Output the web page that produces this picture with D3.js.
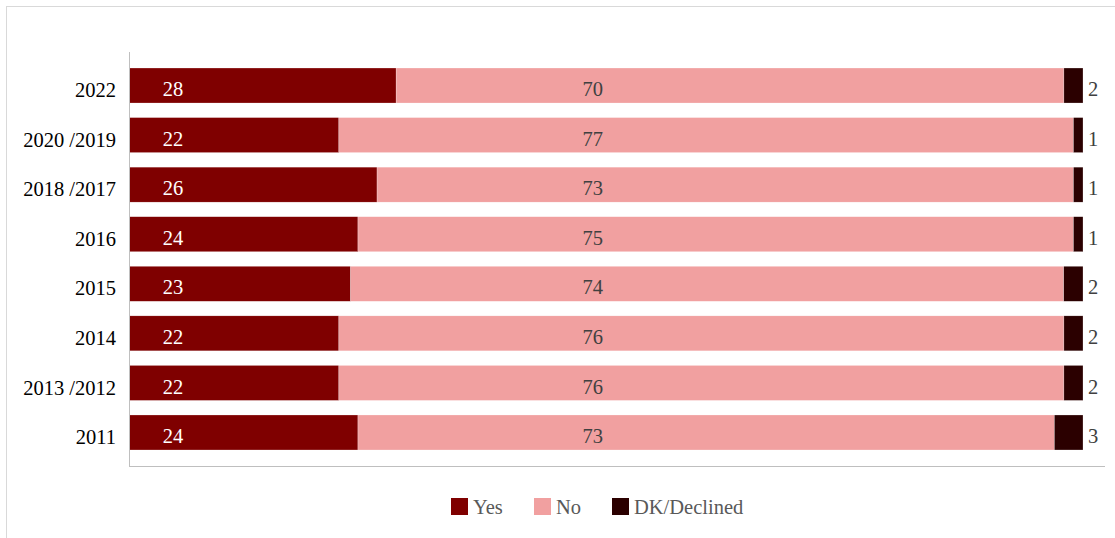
<!DOCTYPE html>
<html>
<head>
<meta charset="utf-8">
<script src="https://cdn.jsdelivr.net/npm/d3@7"></script>
<style>
  html, body { margin: 0; padding: 0; background: #fff; }
  svg { display: block; }
</style>
</head>
<body>
<svg id="chart" width="1115" height="538"></svg>
<script>
// Survey periods, top to bottom
const categories = ["2022", "2020 /2019", "2018 /2017", "2016", "2015", "2014", "2013 /2012", "2011"];
// Share of respondents (%)
const yesValues = [28, 22, 26, 24, 23, 22, 22, 24];
const noValues = [70, 77, 73, 75, 74, 76, 76, 73];
const dkValues = [2, 1, 1, 1, 2, 2, 2, 3];
const seriesNames = ["Yes", "No", "DK/Declined"];
const seriesColors = ["#7f0000", "#f1a0a0", "#2b0000"];

const rows = categories.map((c, i) => ({
  cat: c, Yes: yesValues[i], No: noValues[i], "DK/Declined": dkValues[i]
}));

const svg = d3.select("#chart");
const W = 1115, H = 538;
const FONT = "'Liberation Serif', 'Times New Roman', serif";
const FS = 20.5;

// chart frame
svg.append("rect")
  .attr("x", 6.5).attr("y", 6.5)
  .attr("width", W + 10).attr("height", H + 10)
  .attr("fill", "#fff").attr("stroke", "#d9d9d9").attr("stroke-width", 1);

const plot = { left: 129, right: 1105, top: 52, bottom: 466 };
const barEnd = 1083;

// 100% stacked layout
const stack = d3.stack().keys(seriesNames).offset(d3.stackOffsetExpand);
const layers = stack(rows);

const x = d3.scaleLinear().domain([0, 1]).range([plot.left, barEnd]);
const y = d3.scaleBand().domain(categories)
  .range([plot.top, plot.bottom])
  .paddingInner(0.294).paddingOuter(0.323);

const color = d3.scaleOrdinal().domain(seriesNames).range(seriesColors);

// bars
const g = svg.append("g");
layers.forEach(layer => {
  g.selectAll(null).data(layer).enter().append("rect")
    .attr("x", d => x(d[0]))
    .attr("y", d => y(d.data.cat))
    .attr("width", d => x(d[1]) - x(d[0]))
    .attr("height", y.bandwidth())
    .attr("fill", color(layer.key))
    .attr("stroke", "#ffffff").attr("stroke-width", 0.4).attr("stroke-opacity", 0.6);
});

// category axis
const yAxis = d3.axisLeft(y).tickSize(0).tickPadding(13);
const ya = svg.append("g").attr("transform", `translate(${plot.left},0)`).call(yAxis);
ya.select(".domain").remove();
ya.selectAll("text")
  .attr("font-family", FONT).attr("font-size", FS).attr("fill", "#000")
  .attr("dy", null).attr("y", 11.7);

svg.append("line")
  .attr("x1", plot.left + 0.5).attr("x2", plot.left + 0.5)
  .attr("y1", plot.top).attr("y2", plot.bottom)
  .attr("stroke", "#bfbfbf").attr("stroke-width", 1);
svg.append("line")
  .attr("x1", plot.left).attr("x2", plot.right)
  .attr("y1", plot.bottom + 0.5).attr("y2", plot.bottom + 0.5)
  .attr("stroke", "#bfbfbf").attr("stroke-width", 1);

// value labels
const labels = svg.append("g").attr("font-family", FONT).attr("font-size", FS);
const yesLayer = layers[0], noLayer = layers[1], dkLayer = layers[2];
const baseY = d => y(d.data.cat) + y.bandwidth() / 2 + 10.7;
labels.selectAll(".ly").data(yesLayer).enter().append("text")
  .attr("x", d => x(d[0]) + 44)
  .attr("y", baseY)
  .attr("text-anchor", "middle").attr("fill", "#fff")
  .text(d => d.data.Yes);
labels.selectAll(".ln").data(noLayer).enter().append("text")
  .attr("x", x(0.486))
  .attr("y", baseY)
  .attr("text-anchor", "middle").attr("fill", "#404040")
  .text(d => d.data.No);
labels.selectAll(".ld").data(dkLayer).enter().append("text")
  .attr("x", d => x(d[1]) + 5)
  .attr("y", baseY)
  .attr("text-anchor", "start").attr("fill", "#404040")
  .text(d => d.data["DK/Declined"]);

// legend
const legendItems = [
  { name: "Yes", x: 451 },
  { name: "No", x: 534 },
  { name: "DK/Declined", x: 612 }
];
const lg = svg.append("g");
legendItems.forEach(it => {
  lg.append("rect").attr("x", it.x).attr("y", 498).attr("width", 17).attr("height", 17)
    .attr("fill", color(it.name));
  lg.append("text").attr("x", it.x + 22).attr("y", 514)
    .attr("font-family", FONT).attr("font-size", FS).attr("fill", "#595959")
    .text(it.name);
});
</script>
</body>
</html>
